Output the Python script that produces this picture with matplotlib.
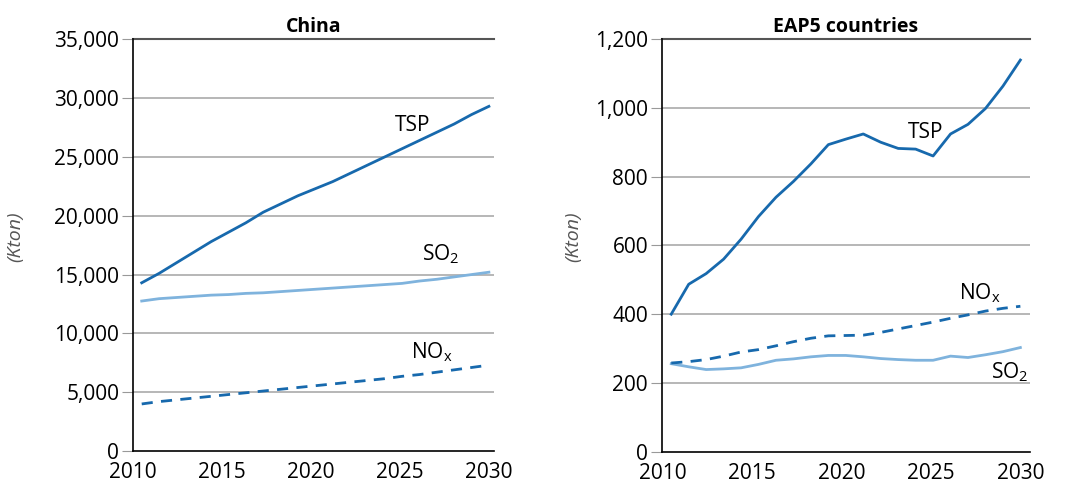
import matplotlib
matplotlib.use('Agg')
import matplotlib.pyplot as plt

plt.rcParams['font.family'] = ['Open Sans', 'DejaVu Sans']
plt.rcParams['mathtext.fontset'] = 'custom'
plt.rcParams['mathtext.rm'] = 'Open Sans'
plt.rcParams['mathtext.it'] = 'Open Sans'

years = list(range(2010, 2031))
tick_labels = ['2010', '2015', '2020', '2025', '2030']

# China, kton
china_tsp = [14300, 15100, 16000, 16900, 17800, 18600, 19400, 20300, 21000, 21700, 22300,
             22900, 23600, 24300, 25000, 25700, 26400, 27100, 27800, 28600, 29300]
china_so2 = [12750, 12950, 13050, 13150, 13250, 13300, 13400, 13450, 13550, 13650, 13750,
             13850, 13950, 14050, 14150, 14250, 14450, 14600, 14800, 15000, 15200]
china_nox = [4000, 4200, 4350, 4500, 4650, 4800, 4950, 5100, 5250, 5400, 5550,
             5700, 5850, 6000, 6150, 6350, 6500, 6700, 6900, 7100, 7300]

# EAP5 countries, kton
eap_tsp = [400, 487, 518, 560, 618, 684, 740, 786, 837, 893, 909,
           924, 900, 882, 880, 860, 924, 952, 998, 1063, 1139]
eap_so2 = [256, 247, 239, 241, 244, 254, 266, 270, 276, 280, 280,
           276, 271, 268, 266, 266, 278, 274, 282, 291, 303]
eap_nox = [258, 262, 268, 278, 290, 297, 308, 320, 330, 337, 338,
           339, 347, 357, 367, 377, 388, 398, 409, 417, 423]

dark_blue = '#1769ad'
light_blue = '#7fb3dd'


def style_axes(ax, ymax, ystep, title, label_x):
    ax.set_ylim(0, ymax)
    ax.set_xticks([2009.5, 2014.625, 2019.75, 2024.875, 2030])
    ax.set_xticklabels(tick_labels)
    yt = list(range(0, ymax + 1, ystep))
    ax.set_yticks(yt)
    ax.set_yticklabels([f'{v:,}' for v in yt])
    ax.tick_params(axis='x', length=0, labelsize=15, pad=8)
    ax.tick_params(axis='y', length=8, color='#999999', labelsize=15, pad=2)
    for v in yt[1:-1]:
        ax.axhline(v, color='#aaaaaa', lw=1.2, zorder=0)
    ax.axhline(ymax, color='#555555', lw=1.5, zorder=0, clip_on=False)
    for s in ['top', 'right']:
        ax.spines[s].set_visible(False)
    ax.spines['left'].set_linewidth(1.2)
    ax.spines['bottom'].set_linewidth(1.2)
    ax.set_title(title, fontsize=14, fontweight='bold', pad=5)
    ax.set_ylabel('(Kton)', fontsize=14, style='italic', color='#555555')
    ax.yaxis.set_label_coords(label_x, 0.52)


fig = plt.figure(figsize=(10.66, 4.87), dpi=100)
ax1 = fig.add_axes([0.1248, 0.0739, 0.3387, 0.8454])
ax2 = fig.add_axes([0.621, 0.0724, 0.3452, 0.8474])

# China panel
ax1.plot(years, china_tsp, color=dark_blue, lw=2)
ax1.plot(years, china_so2, color=light_blue, lw=2)
ax1.plot(years, china_nox, color=dark_blue, lw=2, ls=(0, (4, 3)))
style_axes(ax1, 35000, 5000, 'China', -0.30)
ax1.set_xlim(2009.5, 2030.3)
ax1.text(2025.6, 27700, 'TSP', fontsize=15, ha='center', va='center')
ax1.text(2027.2, 16700, 'SO$_2$', fontsize=15, ha='center', va='center')
ax1.text(2026.7, 8400, 'NO$_x$', fontsize=15, ha='center', va='center')

# EAP5 panel
ax2.plot(years, eap_tsp, color=dark_blue, lw=2)
ax2.plot(years, eap_so2, color=light_blue, lw=2)
ax2.plot(years, eap_nox, color=dark_blue, lw=2, ls=(0, (4, 3)))
style_axes(ax2, 1200, 200, 'EAP5 countries', -0.217)
ax2.set_xlim(2009.47, 2030.55)
ax2.text(2024.55, 928, 'TSP', fontsize=15, ha='center', va='center')
ax2.text(2027.7, 462, 'NO$_x$', fontsize=15, ha='center', va='center')
ax2.text(2029.4, 232, 'SO$_2$', fontsize=15, ha='center', va='center')

fig.savefig('out.png', dpi=100)
